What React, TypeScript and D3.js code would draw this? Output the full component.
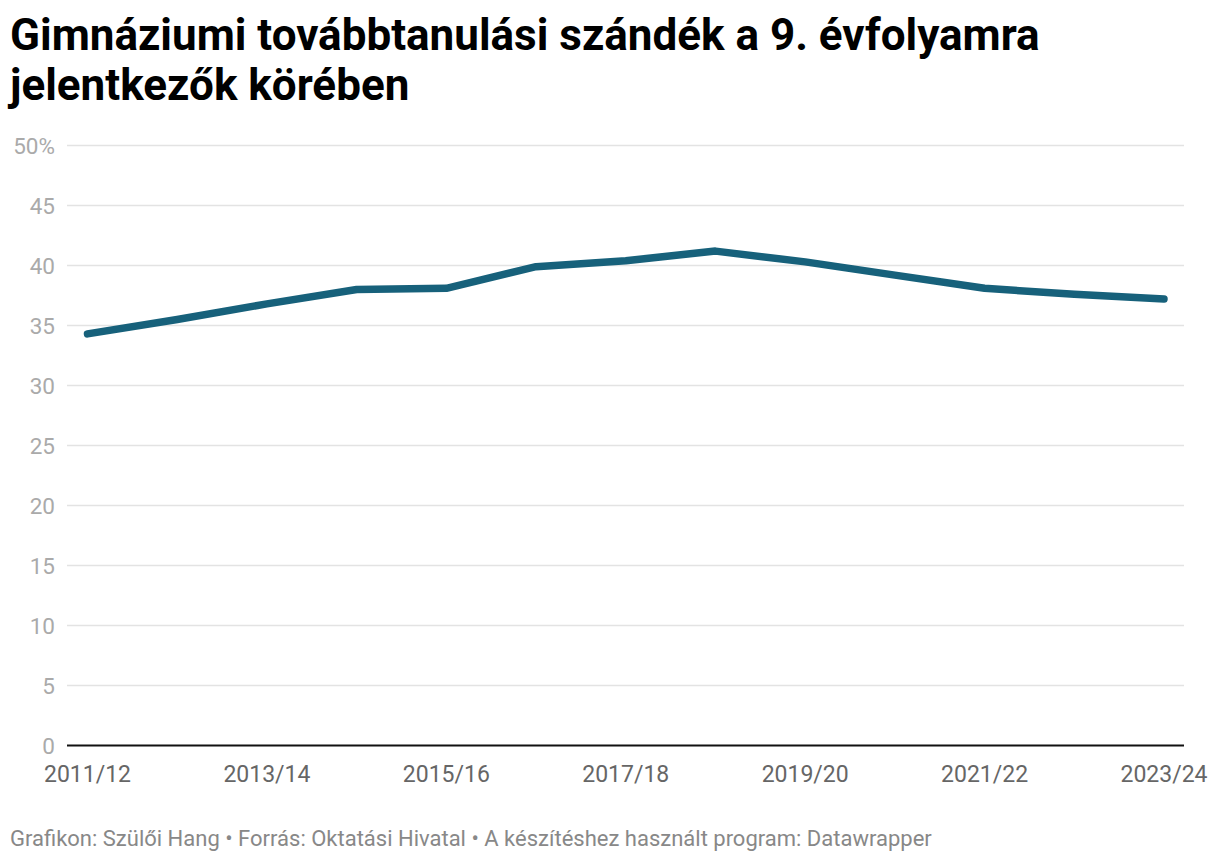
import React from "react";
import * as d3 from "d3";

const categories = ["2011/12","2012/13","2013/14","2014/15","2015/16","2016/17","2017/18","2018/19","2019/20","2020/21","2021/22","2022/23","2023/24"];
const values = [34.3, 35.5, 36.8, 38.0, 38.1, 39.9, 40.4, 41.2, 40.3, 39.2, 38.1, 37.6, 37.2];
const yTicks = [0, 5, 10, 15, 20, 25, 30, 35, 40, 45, 50];
const xTickLabels = ["2011/12","2013/14","2015/16","2017/18","2019/20","2021/22","2023/24"];
const titleLines = ["Gimnáziumi továbbtanulási szándék a 9. évfolyamra", "jelentkezők körében"];
const footer = "Grafikon: Szülői Hang • Forrás: Oktatási Hivatal • A készítéshez használt program: Datawrapper";

export default function App() {
  const W = 1220, H = 862;
  const gridLeft = 67, gridRight = 1184;
  const x = d3.scalePoint<string>().domain(categories).range([87.5, 1164]);
  const y = d3.scaleLinear().domain([0, 50]).range([745.5, 145.5]);
  const line = d3.line<number>().x((_, i) => x(categories[i])!).y(d => y(d));
  const font = "Roboto, 'Noto Sans', sans-serif";
  return (
    <svg width={W} height={H} style={{ position: "absolute", left: 0, top: 0, background: "#fff" }} fontFamily={font}>
      {titleLines.map((t, i) => (
        <text key={i} x={10} y={50 + i * 50} fontSize={44} fontWeight={700} fill="#000">{t}</text>
      ))}
      {yTicks.map(t => (
        <g key={t}>
          {t !== 0 && <line x1={gridLeft} x2={gridRight} y1={y(t)} y2={y(t)} stroke="#e3e3e3" strokeWidth={1.5} />}
          <text x={55} y={y(t)} dy="0.36em" textAnchor="end" fontSize={22.5} fill="#aaaaaa">{t === 50 ? "50%" : t}</text>
        </g>
      ))}
      <line x1={gridLeft} x2={gridRight} y1={y(0)} y2={y(0)} stroke="#111" strokeWidth={2} />
      {xTickLabels.map(c => (
        <text key={c} x={x(c)!} y={782} textAnchor="middle" fontSize={23} fill="#666">{c}</text>
      ))}
      <path d={line(values)!} fill="none" stroke="#17617b" strokeWidth={7.5} strokeLinecap="round" strokeLinejoin="round" />
      <text x={10} y={846} fontSize={22} fill="#888">{footer}</text>
    </svg>
  );
}
